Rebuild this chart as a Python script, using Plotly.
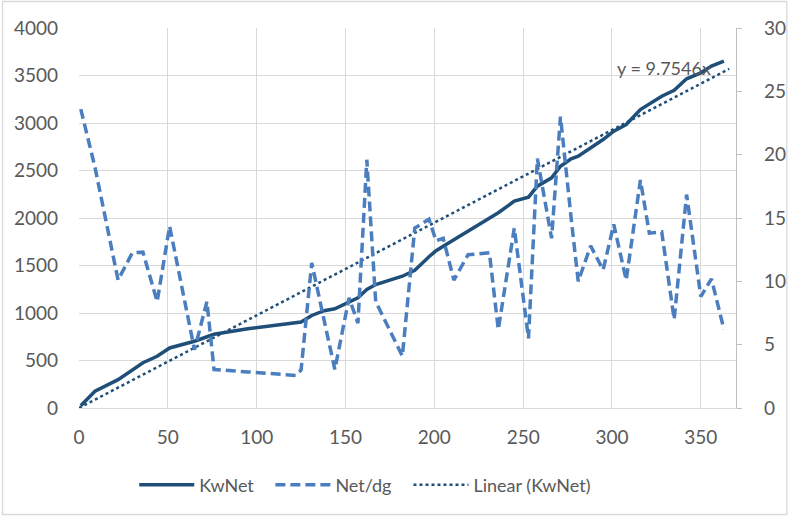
import plotly.graph_objects as go

# Day of year for each meter reading
x_days = [1, 9, 22, 30, 36, 44, 51, 65, 72, 76,
          95, 122, 125, 131, 138, 144, 152, 157, 162, 167,
          182, 189, 197, 201, 205, 211, 219, 231, 236, 245,
          253, 258, 266, 271, 277, 281, 288, 295, 301, 308,
          316, 321, 328, 335, 342, 350, 356, 363]

# Cumulative net energy (left axis)
kwnet = [24, 177, 298, 400, 476, 545, 632, 703, 750, 776,
         834, 897, 905, 974, 1024, 1044, 1114, 1160, 1247, 1300,
         1387, 1450, 1592, 1655, 1703, 1772, 1864, 2002, 2055, 2177,
         2219, 2335, 2423, 2545, 2623, 2650, 2739, 2826, 2914, 2984,
         3142, 3199, 3282, 3345, 3465, 3528, 3600, 3651]

# Net energy per day (right axis)
net_dg = [23.6, 19.0, 10.1, 12.25, 12.3, 8.4, 14.35, 4.6, 8.4, 3.04,
          2.85, 2.57, 3.0, 11.46, 6.9, 3.04, 8.7, 6.7, 19.6, 8.4,
          4.1, 14.2, 14.9, 13.2, 13.4, 10.1, 12.1, 12.25, 6.2, 14.2,
          5.5, 19.7, 13.4, 23.0, 15.0, 10.0, 12.8, 10.9, 14.5, 10.1,
          18.0, 13.8, 13.9, 7.0, 16.85, 8.8, 10.2, 6.2]

# Linear trend through the origin
trend_slope = 9.7546
trend_label = "y = 9.7546x"
trend_x = [0, max(x_days) + 3]
trend_y = [trend_slope * v for v in trend_x]

left_ticks = list(range(0, 4001, 500))
right_ticks = list(range(0, 31, 5))
x_ticks = list(range(0, 351, 50))

NAVY = "#1f4e79"
LIGHT = "#4a7ebf"
GRID = "#d9d9d9"
TEXT = "#595959"
FONT = "Lato"
FS = 19
LEG_FS = 18

fig = go.Figure()
fig.add_trace(go.Scatter(x=x_days, y=kwnet, name="KwNet", mode="lines",
                         legend="legend",
                         line=dict(color=NAVY, width=3.5)))
fig.add_trace(go.Scatter(x=x_days, y=net_dg, name="Net/dg", mode="lines",
                         yaxis="y2", legend="legend2",
                         line=dict(color=LIGHT, width=3.5, dash="10px,5px")))
fig.add_trace(go.Scatter(x=trend_x, y=trend_y, name="Linear (KwNet)", mode="lines",
                         legend="legend3",
                         line=dict(color=NAVY, width=2.5, dash="dot")))

L, R, T, B = 79, 53, 28, 108
W, H = 798, 516
pw, ph = W - L - R, H - T - B


def legend_at(px):
    # one legend box per series, placed side by side under the plot
    return dict(orientation="h", x=(px - 5 - L) / pw, xanchor="left",
                y=(H - B - 485) / ph, yanchor="middle", itemwidth=55,
                font=dict(size=LEG_FS, color=TEXT), bgcolor="rgba(0,0,0,0)")


fig.update_layout(
    width=W, height=H,
    margin=dict(l=L, r=R, t=T, b=B),
    paper_bgcolor="white", plot_bgcolor="white",
    font=dict(family=FONT, size=FS, color=TEXT),
    showlegend=True,
    legend=legend_at(140),
    legend2=legend_at(278),
    legend3=legend_at(418),
    xaxis=dict(range=[0, 369.8], tickvals=x_ticks, showgrid=True, gridcolor=GRID,
               gridwidth=1.3, zeroline=False, showline=True, linecolor=GRID,
               linewidth=1.3, ticks="", ticklabelstandoff=12),
    yaxis=dict(range=[0, 4000], tickvals=left_ticks, showgrid=True, gridcolor=GRID,
               gridwidth=1.3, zeroline=False, showline=False, ticks="",
               ticklabelstandoff=20),
    yaxis2=dict(range=[0, 30], tickvals=right_ticks, overlaying="y", side="right",
                showgrid=False, zeroline=False, showline=True, linecolor="#bfbfbf",
                linewidth=1.3, ticks="outside", ticklen=5, tickcolor="#bfbfbf",
                ticklabelstandoff=18),
    annotations=[dict(x=329, y=3584, xref="x", yref="y", text=trend_label,
                      showarrow=False, font=dict(size=LEG_FS, color=TEXT))],
    shapes=[dict(type="rect", xref="paper", yref="paper",
                 x0=(1.5 - L) / pw, x1=(W - 1.5 - L) / pw,
                 y0=(H - B - (H - 1.5)) / ph, y1=(H - B - 1.5) / ph,
                 line=dict(color=GRID, width=1.3), fillcolor="rgba(0,0,0,0)",
                 layer="below")],
)

fig.write_html("out.html")
